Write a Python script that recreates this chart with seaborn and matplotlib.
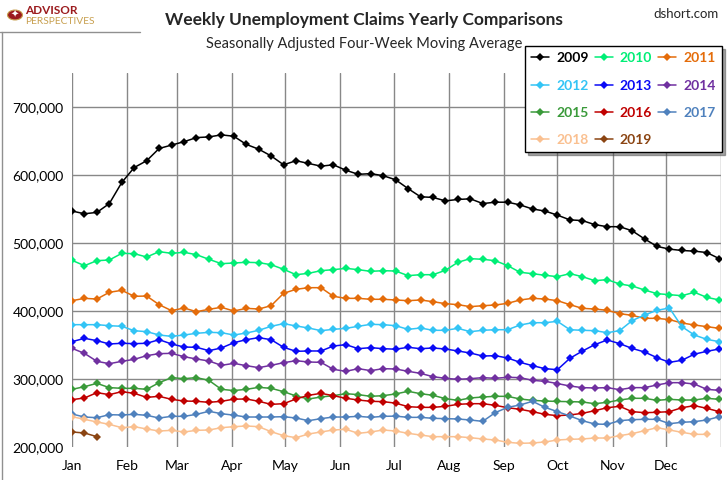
import numpy as np
import pandas as pd
import matplotlib
matplotlib.use("Agg")
import matplotlib.pyplot as plt
import seaborn as sns
from matplotlib.lines import Line2D
from matplotlib.patches import Circle

# ---- data (thousands of claims, weekly, 4-week moving average) ----
y2009 = [547, 543, 545, 558, 589, 611, 621, 639, 644, 649, 655, 656, 659, 657, 645,
         638, 628, 615, 621, 617, 613, 615, 607, 601, 602, 599, 593, 580, 568, 567, 562, 564, 565, 558,
         560, 560, 556, 550, 547, 541, 534, 533, 527, 524, 524, 518, 506, 495, 491, 489, 488, 486, 477]
y2010 = [474.5, 466.7, 474, 475, 484.8, 484.3, 479.4, 487.3, 484.8, 486.3, 482.8, 476, 469.6, 470.6,
         471.6, 471.1, 468.1, 461.3, 453.4, 455.4, 459.3, 460.8, 462.7, 460.8, 458.3, 459.3, 458.8,
         452, 453.4, 453.4, 459.8, 471.6, 477, 476, 474, 466.7, 456.9, 454.9, 452.5, 450.5,
         454.9, 450.5, 444.6, 446.1, 439.7, 436.8, 430.9, 425.5, 424, 422.5, 427.5, 420.1, 416.2]
y2011 = [415.2, 418.6, 417.6, 427.5, 430.4, 421.6, 422, 409.3, 400.5, 404.4, 399, 402.5, 405.4, 400,
         403.9, 402.9, 407.8, 426, 431.9, 434.3, 434.3, 421.6, 418.6, 418.6, 417.2, 417.2, 416.2,
         415.2, 416.2, 413.7, 410.8, 409.3, 406.4, 407.8, 408.8, 411.3, 416.2, 418.6, 417.6, 415.2,
         409.3, 403.9, 402.9, 401, 396.1, 393.6, 389.2, 389.2, 387.3, 382.4, 379.4, 377, 374.5]
y2012 = [379.9, 379.9, 379.9, 378.4, 377.5, 371, 369.6, 364.7, 362.7, 364.7, 367.2, 368.6, 368.1, 364.7,
         367.6, 371.6, 377.5, 381.4, 378, 375, 371.1, 373, 374.5, 377.5, 380.4, 379.9, 378.4,
         373, 375, 371.6, 371.6, 374.5, 369.6, 371.6, 372.5, 372.5, 379.4, 382.8, 382.8, 384.8,
         372.5, 371.6, 371.1, 368.1, 371.1, 385.8, 394.1, 401, 404.4, 377, 364.7, 358.3, 354.9]
y2013 = [354.9, 359.8, 356.4, 351.5, 352.5, 352, 352.5, 357.8, 351.5, 347, 346.6, 341.7, 345.6, 353.4,
         357.8, 360.8, 357.8, 346.6, 340.7, 341.2, 341.2, 348.5, 350.5, 344.6, 346.1, 344.6, 343.8,
         346.6, 344.6, 345.6, 344.1, 341.2, 338.2, 333.8, 334.3, 330.9, 324.5, 319.6, 315.2, 313.7,
         330.4, 341, 350.5, 357.4, 352, 345, 339.7, 331.4, 324.5, 327.5, 336.5, 340.7, 344.1]
y2014 = [345.1, 337.7, 326, 322.5, 326, 328.9, 334.3, 337.3, 337.7, 332.8, 329.4, 326.5, 320.1, 323,
         319.6, 316.7, 320.1, 324, 326.9, 325, 324.5, 314.2, 311.3, 315.2, 312.3, 315.2, 314.7,
         311.3, 308.3, 303.4, 301, 299.5, 300.5, 302, 301, 302.5, 302, 298, 296.6, 293.3,
         289.7, 287.3, 286.8, 287.3, 284.3, 287.3, 287.3, 291.2, 294.6, 294.6, 292.6, 284.8, 283.3]
y2015 = [284.8, 288.7, 293.6, 287.3, 286.3, 286.3, 284.8, 294.6, 302, 300.5, 302, 298, 284.8, 283,
         284.8, 287.7, 286.3, 281.4, 275, 270.6, 273.5, 275.5, 278.4, 277, 274.5, 275.5, 278,
         281.9, 278.4, 276, 271.1, 268.6, 272.1, 273.5, 274.5, 274.5, 270.6, 268.6, 267.6, 267,
         266.7, 266.2, 263.7, 265.7, 269.1, 271.6, 271.6, 268.6, 270.1, 269.1, 269.1, 271.6, 270.1]
y2016 = [269.6, 272.1, 279.9, 277, 281.4, 278.9, 273, 274.5, 270.1, 267.6, 267.2, 265.7, 267.2, 270.3,
         270.6, 267.2, 262.7, 263.7, 270.6, 276, 278.9, 275.5, 271.6, 269.1, 267.2, 266.7, 264.5,
         259.3, 258.3, 258.3, 259.8, 262.7, 263.7, 263.7, 261.3, 257.8, 255.4, 252, 248, 246.1,
         247.1, 249.5, 253.4, 257.8, 259.8, 252, 250.5, 251, 252, 257.8, 260.8, 256.9, 252]
y2017 = [248.5, 244.1, 243.1, 247.5, 247.1, 248, 246.6, 242.6, 245.1, 245.1, 248, 252.5, 249, 246.8,
         244.1, 244.1, 244.1, 244.6, 242.6, 238.7, 241.7, 244.1, 244.1, 245.1, 243.6, 245.1, 245.4,
         243.6, 243.6, 242.2, 241.7, 241.2, 239.7, 237.7, 250.5, 258.3, 261.8, 267.2, 258.3, 252,
         245.6, 238.7, 233.8, 233.3, 238.7, 240.2, 240.7, 240.7, 234.3, 236.3, 237.3, 239.7, 244.6]
y2018 = [244.6, 240.7, 236.8, 233.3, 228.4, 229.9, 226.5, 223.5, 224.5, 222.1, 224.5, 225, 228.4, 229.9,
         230.9, 229.9, 222.5, 216.7, 213.7, 219.1, 222.1, 225, 226, 220.1, 222.1, 225, 223.5,
         220.1, 217.6, 215.2, 215.2, 215.2, 213.7, 211.8, 210.3, 206.9, 205.4, 205.9, 207.4,
         210.3, 211.3, 211.8, 213.2, 213.2, 216.7, 219.6, 224, 228.4, 225, 221.6, 218.6, 218.6]
y2019 = [222.1, 220.6, 215.2]

years = ["2009", "2010", "2011", "2012", "2013", "2014", "2015", "2016", "2017", "2018", "2019"]
series = [y2009, y2010, y2011, y2012, y2013, y2014, y2015, y2016, y2017, y2018, y2019]
colors = ["#000000", "#00EE76", "#E46C0A", "#33C4F5", "#0A0AF5", "#7030A0",
          "#3A9A3A", "#C00000", "#4F81BD", "#FAC090", "#8B4513"]

months = ["Jan", "Feb", "Mar", "Apr", "May", "Jun", "Jul", "Aug", "Sep", "Oct", "Nov", "Dec"]
month_start_days = [0, 31, 59, 90, 120, 151, 181, 212, 243, 273, 304, 334, 365]
y_ticks = [200000, 300000, 400000, 500000, 600000, 700000]

rows = []
for yr, vals in zip(years, series):
    for i, v in enumerate(vals):
        rows.append((yr, i * 7, v * 1000))
df = pd.DataFrame(rows, columns=["year", "day", "claims"])
palette = dict(zip(years, colors))

sns.set_theme(style="white")
plt.rcParams["font.family"] = ["Lato", "DejaVu Sans"]

fig = plt.figure(figsize=(7.28, 4.80), dpi=100)
ax = fig.add_axes([72 / 728, 1 - 447 / 480, (721 - 72) / 728, (447 - 73) / 480])

sns.lineplot(data=df, x="day", y="claims", hue="year", palette=palette,
             marker="D", markersize=4.4, markeredgewidth=0, linewidth=1.1,
             legend=False, sort=False, ax=ax)

ax.set_xlim(0, 365)
ax.set_ylim(200000, 750000)
ax.set_xticks(month_start_days)
ax.set_xticklabels(months + [""])
ax.set_yticks(y_ticks)
ax.set_yticklabels([f"{v:,}" for v in y_ticks])
ax.set_xlabel("")
ax.set_ylabel("")
ax.grid(True, color="#888888", linewidth=1.0)
ax.yaxis.get_gridlines()[0].set_visible(False)
ax.set_axisbelow(True)
for s in ax.spines.values():
    s.set_visible(False)
ax.tick_params(axis="x", length=0, pad=9, labelsize=10, labelcolor="black")
ax.tick_params(axis="y", length=0, pad=6, labelsize=10, labelcolor="black")

# legend (row-major order like reference -> column-major for matplotlib)
handles = {yr: Line2D([0], [0], color=c, marker="D", markersize=4.4, markeredgewidth=0, lw=1.1)
           for yr, c in zip(years, colors)}
order = ["2009", "2012", "2015", "2018", "2010", "2013", "2016", "2019", "2011", "2014", "2017"]
leg = fig.legend([handles[o] for o in order], order, ncol=3, loc="upper right",
                 bbox_to_anchor=(722 / 728, 1 - 46 / 480), bbox_transform=fig.transFigure,
                 frameon=True, fancybox=False, shadow=True, edgecolor="black",
                 framealpha=1, borderaxespad=0, labelspacing=1.1, handlelength=1.3,
                 handletextpad=0.5, columnspacing=0.45, borderpad=0.45,
                 prop={"weight": "bold", "size": 10})
leg.get_frame().set_linewidth(1.0)
for txt, o in zip(leg.get_texts(), order):
    txt.set_color(palette[o])

# titles
fig.text(364 / 728, 1 - 20 / 480, "Weekly Unemployment Claims Yearly Comparisons",
         ha="center", va="center", fontsize=12.5, fontweight="bold")
fig.text(364 / 728, 1 - 44 / 480, "Seasonally Adjusted Four-Week Moving Average",
         ha="center", va="center", fontsize=10.5)
fig.text(686 / 728, 1 - 14 / 480, "dshort.com", ha="center", va="center", fontsize=9.5)

# logo
circ = Circle((15 / 728, 1 - 15 / 480), 7.5 / 728, transform=fig.transFigure,
              facecolor="#9B1B1E", edgecolor="#C8A050", lw=0.8)
fig.patches.append(circ)
fig.text(15 / 728, 1 - 15 / 480, "\u2726", ha="center", va="center", fontsize=7,
         color="white", family=["DejaVu Sans"])
fig.text(25 / 728, 1 - 10 / 480, "ADVISOR", ha="left", va="center", fontsize=8.5,
         fontweight="bold", color="#9B1B1E")
fig.text(25 / 728, 1 - 22 / 480, "PERSPECTIVES", ha="left", va="center", fontsize=7.4,
         color="#C8A050")

# chart frame line
fig.add_artist(Line2D([1.5 / 728, 1.5 / 728], [0, 1 - 32 / 480], transform=fig.transFigure,
                      color="#909090", lw=1))
fig.add_artist(Line2D([0, 140 / 728], [1 - 32 / 480, 1 - 32 / 480], transform=fig.transFigure,
                      color="#909090", lw=1))

fig.savefig("out.png", dpi=100)
